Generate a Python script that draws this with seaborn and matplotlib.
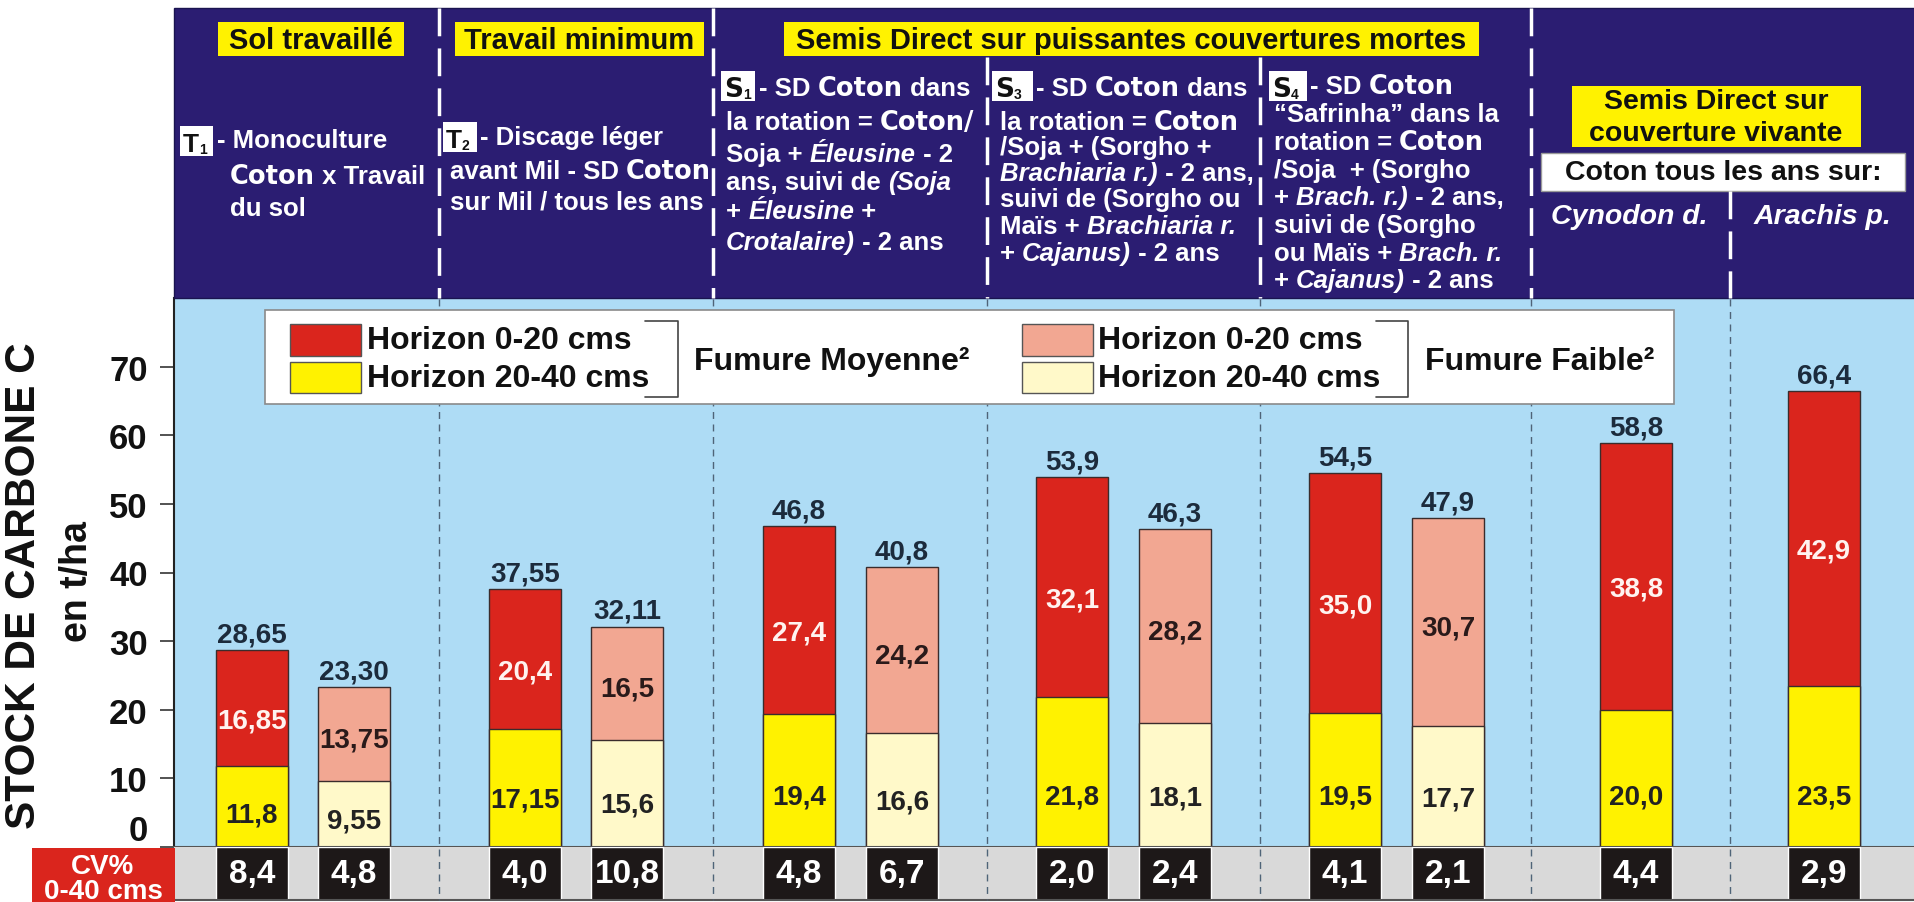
import matplotlib
matplotlib.use('Agg')
import numpy as np
import pandas as pd
import matplotlib.pyplot as plt
from matplotlib.patches import Rectangle
from matplotlib.font_manager import FontProperties
import seaborn as sns

sns.set_style('white')
plt.rcParams['font.family'] = ['Liberation Sans', 'DejaVu Sans']

# ---- data ----
fumure = ['Moyenne', 'Faible', 'Moyenne', 'Faible', 'Moyenne', 'Faible',
          'Moyenne', 'Faible', 'Moyenne', 'Faible', 'Moyenne', 'Moyenne']
horizon_20_40 = [11.8, 9.55, 17.15, 15.6, 19.4, 16.6, 21.8, 18.1, 19.5, 17.7, 20.0, 23.5]
horizon_0_20 = [16.85, 13.75, 20.4, 16.5, 27.4, 24.2, 32.1, 28.2, 35.0, 30.7, 38.8, 42.9]
totals = [28.65, 23.30, 37.55, 32.11, 46.8, 40.8, 53.9, 46.3, 54.5, 47.9, 58.8, 66.4]
total_labels = ['28,65', '23,30', '37,55', '32,11', '46,8', '40,8',
                '53,9', '46,3', '54,5', '47,9', '58,8', '66,4']
cv = [8.4, 4.8, 4.0, 10.8, 4.8, 6.7, 2.0, 2.4, 4.1, 2.1, 4.4, 2.9]
y_ticks = [0, 10, 20, 30, 40, 50, 60, 70]

# ---- layout, in pixels of the 1915x903 picture ----
W, H = 1915, 903
bar_pos = [252, 354, 525, 627, 799, 902, 1072, 1175, 1345, 1448, 1636, 1824]
separators = [439, 713, 987, 1260, 1531, 1730]

NAVY = '#2B1D72'
BLUE = '#AEDCF5'
RED = '#DA251D'
YEL = '#FFF200'
PINK = '#F2A792'
PALE = '#FFF9C9'
EDGE = '#3a2c2c'


def fr(v):
    s = '%.2f' % v if round(v, 1) != v else '%.1f' % v
    return s.replace('.', ',')


def fbox(x0, y0, x1, y1):
    return [x0 / W, 1 - y1 / H, (x1 - x0) / W, (y1 - y0) / H]


fig = plt.figure(figsize=(W / 100, H / 100), dpi=100)
fig.patch.set_facecolor('white')

ax = fig.add_axes(fbox(174, 299, 1915, 848))
cvax = fig.add_axes(fbox(174, 848, 1915, 901))
ov = fig.add_axes([0, 0, 1, 1])
ov.set_xlim(0, W)
ov.set_ylim(H, 0)
ov.axis('off')
ov.set_zorder(5)

# ---- stacked bars ----
df = pd.DataFrame({'pos': bar_pos, 'total': totals, 'lower': horizon_20_40,
                   'upper': horizon_0_20, 'fumure': fumure})
ax.set_facecolor(BLUE)
sns.barplot(data=df, x='pos', y='total', hue='fumure', palette={'Moyenne': RED, 'Faible': PINK},
            native_scale=True, width=0.7, dodge=False, errorbar=None, saturation=1,
            edgecolor=EDGE, linewidth=1, legend=False, ax=ax)
sns.barplot(data=df, x='pos', y='lower', hue='fumure', palette={'Moyenne': YEL, 'Faible': PALE},
            native_scale=True, width=0.7, dodge=False, errorbar=None, saturation=1,
            edgecolor=EDGE, linewidth=1, legend=False, ax=ax)
ax.set_xlim(174, 1915)
ax.set_ylim(0, 80)
ax.set_xticks([])
ax.set_yticks(y_ticks)
ax.set_yticklabels([str(t) for t in y_ticks], fontsize=25, fontweight='bold', color='#111111')
ax.get_yticklabels()[0].set_verticalalignment('bottom')
ax.tick_params(axis='y', left=True, length=10, width=1.3, color='#444444', pad=9)
ax.set_xlabel('')
ax.set_ylabel('')
for side in ['top', 'right']:
    ax.spines[side].set_visible(False)
ax.spines['left'].set_color('#222222')
ax.spines['left'].set_linewidth(1.5)
ax.spines['bottom'].set_color('#555555')
ax.spines['bottom'].set_linewidth(1.5)

for i, row in df.iterrows():
    x = row['pos']
    lo, up, tot = row['lower'], row['upper'], row['total']
    strong = row['fumure'] == 'Moyenne'
    ax.text(x, tot + 2.3, total_labels[i], ha='center', va='center', fontsize=20,
            fontweight='bold', color='#1C2B3C')
    ymid = (lo + tot) / 2 - (1.8 if strong else 0.8)
    ax.text(x, ymid, fr(up), ha='center', va='center', fontsize=20, fontweight='bold',
            color='#FFF3F0' if strong else '#2A1A1A')
    ax.text(x, min(7.3, 0.4 * lo), fr(lo), ha='center', va='center', fontsize=20,
            fontweight='bold', color='#222222')

# ---- CV strip ----
cvax.set_facecolor('#D9D9D9')
cvax.bar(bar_pos, [1] * len(bar_pos), width=71.4, color='#1D1818')
for x, v in zip(bar_pos, cv):
    cvax.text(x, 0.5, fr(v), ha='center', va='center', fontsize=24, fontweight='bold', color='white')
cvax.set_xlim(174, 1915)
cvax.set_ylim(0, 1)
cvax.set_xticks([])
cvax.set_yticks([])
for side in ['top', 'right', 'left']:
    cvax.spines[side].set_visible(False)
cvax.spines['bottom'].set_color('#555555')
cvax.spines['bottom'].set_linewidth(1.5)

ov.add_patch(Rectangle((32, 849), 143, 54, fc=RED, ec='none'))
ov.text(103, 867, 'CV%', ha='center', va='center', fontsize=20, fontweight='bold', color='white')
ov.text(103, 892, '0-40 cms', ha='center', va='center', fontsize=20, fontweight='bold', color='white')

# dashed separators in the plot
ov.vlines(separators, 300, 901, colors='#4f6478', lw=1, linestyles=(0, (5, 4)), zorder=1)

# y label
ov.text(24, 586, 'STOCK DE CARBONE C', rotation=90, ha='center', va='center',
        fontsize=30.5, fontweight='bold', color='#111111')
ov.text(77, 582, 'en t/ha', rotation=90, ha='center', va='center',
        fontsize=27, fontweight='bold', color='#111111')

# ---- legend box ----
ov.add_patch(Rectangle((265, 311), 1409, 94, fc='white', ec='#8a8a8a', lw=1.2, zorder=3))
leg = [(290, RED, YEL, 367), (1022, PINK, PALE, 1098)]
for px, c1, c2, tx in leg:
    ov.add_patch(Rectangle((px, 325), 71, 32, fc=c1, ec='#555555', lw=1, zorder=4))
    ov.add_patch(Rectangle((px, 363), 71, 31, fc=c2, ec='#555555', lw=1, zorder=4))
    ov.text(tx, 341, 'Horizon 0-20 cms', va='center', fontsize=23, fontweight='bold',
            color='#111111', zorder=4)
    ov.text(tx, 379, 'Horizon 20-40 cms', va='center', fontsize=23, fontweight='bold',
            color='#111111', zorder=4)
for bx0, bx1 in [(645, 678), (1376, 1408)]:
    ov.plot([bx0, bx1, bx1, bx0], [322, 322, 398, 398], color='#444444', lw=1.2, zorder=4)
ov.text(694, 362, 'Fumure Moyenne²', va='center', fontsize=23, fontweight='bold',
        color='#111111', zorder=4)
ov.text(1425, 362, 'Fumure Faible²', va='center', fontsize=23, fontweight='bold',
        color='#111111', zorder=4)

# ---- header ----
ov.add_patch(Rectangle((174, 9), 1741, 290, fc=NAVY, ec='#1a1450', lw=1, zorder=1))
for x0, x1, label in [(218, 404, 'Sol travaillé'), (455, 704, 'Travail minimum'),
                      (784, 1479, 'Semis Direct sur puissantes couvertures mortes')]:
    ov.add_patch(Rectangle((x0, 23), x1 - x0, 34, fc=YEL, ec='none', zorder=2))
    ov.text((x0 + x1) / 2, 41, label, ha='center', va='center', fontsize=21,
            fontweight='bold', color='#111111', zorder=3)
ov.add_patch(Rectangle((1572, 87), 289, 61, fc=YEL, ec='none', zorder=2))
ov.text(1716, 102, 'Semis Direct sur', ha='center', va='center', fontsize=20.5,
        fontweight='bold', color='#111111', zorder=3)
ov.text(1716, 134, 'couverture vivante', ha='center', va='center', fontsize=20.5,
        fontweight='bold', color='#111111', zorder=3)
ov.add_patch(Rectangle((1541, 154), 364, 38, fc='white', ec='#999999', lw=1, zorder=2))
ov.text(1723, 173, 'Coton tous les ans sur:', ha='center', va='center', fontsize=20.5,
        fontweight='bold', color='#111111', zorder=3)
ov.text(1629, 217, 'Cynodon d.', ha='center', va='center', fontsize=20.5,
        fontweight='bold', fontstyle='italic', color='white', zorder=3)
ov.text(1822, 217, 'Arachis p.', ha='center', va='center', fontsize=20.5,
        fontweight='bold', fontstyle='italic', color='white', zorder=3)

# white dashed separators in the header
for x, y0, y1 in [(439, 9, 299), (713, 9, 299), (987, 58, 299), (1260, 58, 299),
                  (1531, 9, 299), (1730, 192, 299)]:
    ov.plot([x, x], [y0, y1], color='white', lw=2.5, linestyle=(0, (8, 3.5)), zorder=2)

renderer = fig.canvas.get_renderer()
BODY = 18.5
STY = {'n': FontProperties(family='Liberation Sans', weight='bold', size=BODY),
       'b': FontProperties(family='DejaVu Sans', weight='bold', size=BODY),
       'i': FontProperties(family='Liberation Sans', weight='bold', style='italic', size=BODY)}


def text_w(s, prop):
    w1 = renderer.get_text_width_height_descent('|' + s + '|', prop, ismath=False)[0]
    w0 = renderer.get_text_width_height_descent('||', prop, ismath=False)[0]
    return w1 - w0


def rich(x, y, parts):
    for s, st in parts:
        ov.text(x, y + 8, s, fontproperties=STY[st], color='white', va='baseline', zorder=3)
        x += text_w(s, STY[st])


def tag(x0, y0, x1, y1, letter, sub, fam):
    ov.add_patch(Rectangle((x0, y0), x1 - x0, y1 - y0, fc='white', ec='none', zorder=3))
    ov.text(x0 + 3, y1 - 5, letter, family=fam, fontsize=19, fontweight='bold',
            color='#111111', va='baseline', zorder=4)
    w = text_w(letter, FontProperties(family=fam, weight='bold', size=19))
    ov.text(x0 + 3 + w, y1 - 3, sub, fontsize=10, fontweight='bold',
            color='#111111', va='baseline', zorder=4)


blocks = [
    dict(tag=(180, 127, 213, 157, 'T', '1', 'Liberation Sans'), x1=217, x=230,
         ys=[140, 176, 208],
         lines=[[('- Monoculture', 'n')],
                [('Coton', 'b'), (' x Travail', 'n')],
                [('du sol', 'n')]]),
    dict(tag=(443, 123, 477, 153, 'T', '2', 'Liberation Sans'), x1=480, x=450,
         ys=[137, 171, 202],
         lines=[[('- Discage léger', 'n')],
                [('avant Mil - SD ', 'n'), ('Coton', 'b')],
                [('sur Mil / tous les ans', 'n')]]),
    dict(tag=(721, 72, 755, 102, 'S', '1', 'DejaVu Sans'), x1=759, x=726,
         ys=[88, 122, 154, 182, 211, 242],
         lines=[[('- SD ', 'n'), ('Coton', 'b'), (' dans', 'n')],
                [('la rotation = ', 'n'), ('Coton/', 'b')],
                [('Soja + ', 'n'), ('Éleusine', 'i'), (' - 2', 'n')],
                [('ans, suivi de ', 'n'), ('(Soja', 'i')],
                [('+ ', 'n'), ('Éleusine', 'i'), (' +', 'n')],
                [('Crotalaire)', 'i'), (' - 2 ans', 'n')]]),
    dict(tag=(992, 72, 1033, 102, 'S', '3', 'DejaVu Sans'), x1=1036, x=1000,
         ys=[88, 122, 147, 173, 199, 226, 253],
         lines=[[('- SD ', 'n'), ('Coton', 'b'), (' dans', 'n')],
                [('la rotation = ', 'n'), ('Coton', 'b')],
                [('/Soja + (Sorgho +', 'n')],
                [('Brachiaria r.)', 'i'), (' - 2 ans,', 'n')],
                [('suivi de (Sorgho ou', 'n')],
                [('Maïs + ', 'n'), ('Brachiaria r.', 'i')],
                [('+ ', 'n'), ('Cajanus)', 'i'), (' - 2 ans', 'n')]]),
    dict(tag=(1269, 72, 1307, 102, 'S', '4', 'DejaVu Sans'), x1=1310, x=1274,
         ys=[86, 114, 142, 170, 197, 225, 253, 280],
         lines=[[('- SD ', 'n'), ('Coton', 'b')],
                [('“Safrinha” dans la', 'n')],
                [('rotation = ', 'n'), ('Coton', 'b')],
                [('/Soja  + (Sorgho', 'n')],
                [('+ ', 'n'), ('Brach. r.)', 'i'), (' - 2 ans,', 'n')],
                [('suivi de (Sorgho', 'n')],
                [('ou Maïs + ', 'n'), ('Brach. r.', 'i')],
                [('+ ', 'n'), ('Cajanus)', 'i'), (' - 2 ans', 'n')]]),
]
for b in blocks:
    tag(*b['tag'])
    for k, (y, parts) in enumerate(zip(b['ys'], b['lines'])):
        rich(b['x1'] if k == 0 else b['x'], y, parts)

fig.savefig('out.png', dpi=100)
